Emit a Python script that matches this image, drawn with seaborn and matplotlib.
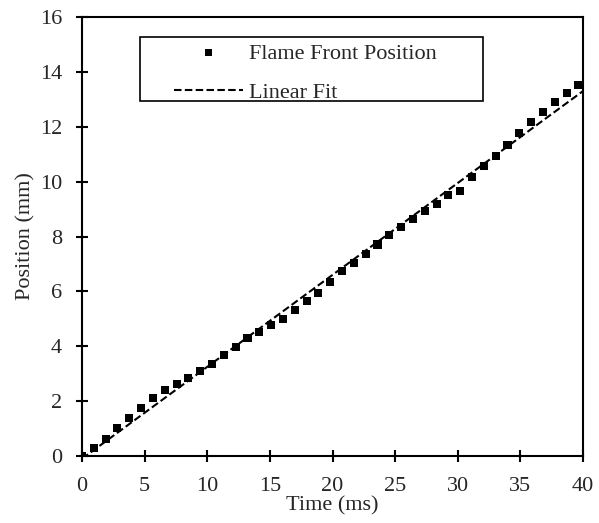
import matplotlib
matplotlib.use("Agg")
import matplotlib.pyplot as plt
from matplotlib.patches import Rectangle
import seaborn as sns
import pandas as pd

time_ms = [0.00, 0.94, 1.89, 2.83, 3.77, 4.72, 5.66, 6.61, 7.55, 8.49, 9.44,
           10.38, 11.32, 12.27, 13.21, 14.15, 15.10, 16.04, 16.98, 17.93, 18.87,
           19.82, 20.76, 21.70, 22.65, 23.59, 24.53, 25.48, 26.42, 27.36, 28.31,
           29.25, 30.20, 31.14, 32.08, 33.03, 33.97, 34.91, 35.86, 36.80, 37.74,
           38.69, 39.63]
position_mm = [0.00, 0.28, 0.62, 1.01, 1.37, 1.76, 2.12, 2.40, 2.61, 2.85, 3.09,
               3.35, 3.68, 3.98, 4.29, 4.53, 4.77, 4.98, 5.32, 5.65, 5.95,
               6.35, 6.74, 7.04, 7.36, 7.71, 8.05, 8.36, 8.64, 8.94, 9.17,
               9.51, 9.67, 10.16, 10.58, 10.93, 11.33, 11.76, 12.18, 12.55, 12.89,
               13.22, 13.52]
fit_time = [0.0, 40.0]
fit_position = [-0.10, 13.30]

x_ticks = [0, 5, 10, 15, 20, 25, 30, 35, 40]
y_ticks = [0, 2, 4, 6, 8, 10, 12, 14, 16]

sns.set_style("ticks")
plt.rcParams['font.family'] = ['Liberation Serif', 'DejaVu Serif']
FS = 16
plt.rcParams['font.size'] = FS

df = pd.DataFrame({"t": time_ms, "pos": position_mm})
df_fit = pd.DataFrame({"t": fit_time, "pos": fit_position})

fig = plt.figure(figsize=(5.99, 5.23), dpi=100)
ax = fig.add_axes([82/599, 1-456/523, 501/599, 439/523])

sns.scatterplot(data=df, x="t", y="pos", marker="s", s=34, color="black",
                edgecolor="none", ax=ax, label="Flame Front Position", zorder=3)
sns.lineplot(data=df_fit, x="t", y="pos", color="black", linewidth=1.5,
             dashes=False, ax=ax, label="Linear Fit", zorder=2)
ax.lines[-1].set_dashes([3.6, 1.6])

ax.set_xlim(0, 40)
ax.set_ylim(0, 16)
ax.set_xticks(x_ticks)
ax.set_yticks(y_ticks)
ax.set_xlabel("Time (ms)", fontsize=FS, labelpad=0)
ax.set_ylabel("Position (mm)", fontsize=FS, labelpad=3)

for s in ax.spines.values():
    s.set_linewidth(1.5)
    s.set_color("black")
    s.set_visible(True)
ax.tick_params(axis="both", which="major", direction="inout", length=8.6,
               width=1.5, color="black", labelsize=FS, top=False, right=False)
ax.tick_params(axis="x", pad=11)
ax.tick_params(axis="y", pad=10)

# legend frame
ax.add_patch(Rectangle((58/501, (456-101)/439), (483-140)/501, 64/439,
                       transform=ax.transAxes, fill=False, edgecolor="black",
                       linewidth=1.2, zorder=5, clip_on=False))
leg = ax.legend(loc="upper left", bbox_to_anchor=((174-82)/501, (456-43)/439),
                frameon=False, borderpad=0, borderaxespad=0, handlelength=3.1,
                handletextpad=0.27, labelspacing=0.86, fontsize=FS, markerscale=0.85)

fig.savefig("out.png", dpi=100)
